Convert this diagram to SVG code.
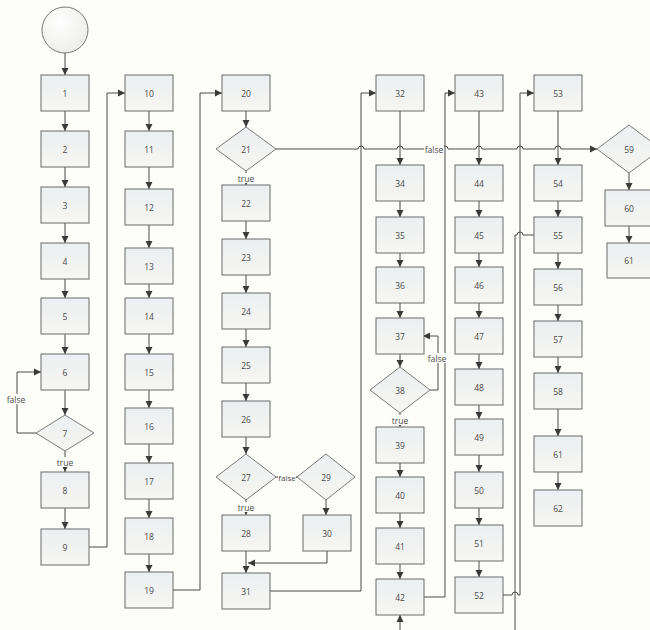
<svg xmlns="http://www.w3.org/2000/svg" width="650" height="630" viewBox="0 0 650 630">
<defs>
<linearGradient id="g" x1="0" y1="0" x2="0" y2="1">
<stop offset="0" stop-color="#eceff1"/>
<stop offset="1" stop-color="#f6f6f2"/>
</linearGradient>
<radialGradient id="gc" cx="0.4" cy="0.35" r="0.7">
<stop offset="0" stop-color="#ffffff"/>
<stop offset="1" stop-color="#ececea"/>
</radialGradient>
<marker id="a" markerWidth="8" markerHeight="8" refX="7" refY="4" orient="auto" markerUnits="userSpaceOnUse">
<path d="M0,0.5 L7,4 L0,7.5 Z" fill="#3a3a3a"/>
</marker>
<style>
.b{fill:url(#g);stroke:#6b6b6b;stroke-width:1}
.d{fill:url(#g);stroke:#7a7a7a;stroke-width:1}
.t{font-family:"Open Sans","DejaVu Sans",sans-serif;font-size:8.5px;fill:#4a4a4a;text-anchor:middle;dominant-baseline:central}
.l{font-family:"Open Sans","DejaVu Sans",sans-serif;font-size:8.5px;fill:#4a4a4a;text-anchor:middle;dominant-baseline:central}
.c{fill:none;stroke:#4a4a4a;stroke-width:1}
.ca{fill:none;stroke:#4a4a4a;stroke-width:1;marker-end:url(#a)}
.lb{fill:#fdfdfa}
</style>
</defs>
<rect width="650" height="630" fill="#fdfdfa"/>

<g id="connectors">
<path class="ca" d="M65,53 V75"/>
<path class="ca" d="M65,111 V131"/>
<path class="ca" d="M65,167 V187"/>
<path class="ca" d="M65,223 V243"/>
<path class="ca" d="M65,279 V298"/>
<path class="ca" d="M65,334 V354"/>
<path class="ca" d="M65,390 V415"/>
<path class="ca" d="M36,433 H17 V372 H41"/>
<path class="ca" d="M65,451 V472"/>
<path class="ca" d="M65,508 V529"/>
<path class="ca" d="M89,547 H107 V93 H125"/>

<path class="ca" d="M149,111 V131"/>
<path class="ca" d="M149,167 V189"/>
<path class="ca" d="M149,225 V248"/>
<path class="ca" d="M149,284 V298"/>
<path class="ca" d="M149,334 V354"/>
<path class="ca" d="M149,390 V408"/>
<path class="ca" d="M149,444 V463"/>
<path class="ca" d="M149,499 V518"/>
<path class="ca" d="M149,554 V572"/>
<path class="ca" d="M173,590 H200 V93 H222"/>

<path class="ca" d="M246,111 V127"/>
<path class="ca" d="M246,171 V185"/>
<path class="ca" d="M246,221 V239"/>
<path class="ca" d="M246,275 V293"/>
<path class="ca" d="M246,329 V347"/>
<path class="ca" d="M246,383 V401"/>
<path class="ca" d="M246,437 V454"/>
<path class="ca" d="M276,477 H297"/>
<path class="ca" d="M246,500 V515"/>
<path class="ca" d="M326,500 V515"/>
<path class="ca" d="M327,551 V563 H248"/>
<path class="ca" d="M246,551 V573"/>
<path class="ca" d="M270,591 H361 V93 H376"/>
<path class="ca" d="M276,149 H358 a3,3 0 0 1 6,0 H397 a3,3 0 0 1 6,0 H442 a3,3 0 0 1 6,0 H476 a3,3 0 0 1 6,0 H517 a3,3 0 0 1 6,0 H555 a3,3 0 0 1 6,0 H597"/>

<path class="ca" d="M400,111 V165"/>
<path class="ca" d="M400,201 V217"/>
<path class="ca" d="M400,253 V267"/>
<path class="ca" d="M400,303 V318"/>
<path class="ca" d="M400,354 V367"/>
<path class="ca" d="M430,390 H438 V336 H423"/>
<path class="ca" d="M400,413 V427"/>
<path class="ca" d="M400,463 V477"/>
<path class="ca" d="M400,513 V528"/>
<path class="ca" d="M400,564 V579"/>
<path class="ca" d="M400,630 V615"/>
<path class="ca" d="M423,597 H445 V93 H455"/>

<path class="ca" d="M479,111 V165"/>
<path class="ca" d="M479,201 V217"/>
<path class="ca" d="M479,253 V267"/>
<path class="ca" d="M479,303 V318"/>
<path class="ca" d="M479,354 V369"/>
<path class="ca" d="M479,405 V419"/>
<path class="ca" d="M479,455 V472"/>
<path class="ca" d="M479,508 V525"/>
<path class="ca" d="M479,561 V577"/>
<path class="ca" d="M503,595 H512 a3,3 0 0 1 6,0 H520 V93 H534"/>

<path class="ca" d="M558,111 V165"/>
<path class="ca" d="M558,201 V217"/>
<path class="ca" d="M558,253 V269"/>
<path class="ca" d="M558,305 V321"/>
<path class="ca" d="M558,357 V373"/>
<path class="ca" d="M558,409 V436"/>
<path class="ca" d="M558,472 V490"/>
<path class="c" d="M534,235 H523 a3,3 0 0 0 -6,0 H515 V630"/>

<path class="ca" d="M629,173 V190"/>
<path class="ca" d="M629,226 V243"/>

<rect class="lb" x="6" y="394" width="21" height="10"/>
<text class="l" x="16" y="399">false</text>
<rect class="lb" x="56" y="457" width="18" height="10"/>
<text class="l" x="65" y="462">true</text>
<rect class="lb" x="237" y="173" width="18" height="10"/>
<text class="l" x="246" y="178">true</text>
<rect class="lb" x="237" y="502" width="18" height="10"/>
<text class="l" x="246" y="507">true</text>
<rect class="lb" x="278" y="472" width="18" height="10"/>
<text class="l" x="287" y="477" style="font-size:8px">false</text>
<rect class="lb" x="391" y="415" width="18" height="10"/>
<text class="l" x="400" y="420">true</text>
<rect class="lb" x="427" y="353" width="21" height="10"/>
<text class="l" x="437" y="358">false</text>
<rect class="lb" x="424" y="144" width="20" height="10"/>
<text class="l" x="434" y="149">false</text>
</g>

<g id="start"><circle cx="65" cy="30" r="23" fill="url(#gc)" stroke="#777"/></g>

<g id="n1"><rect class="b" x="41" y="75" width="48" height="36"/><text class="t" x="65" y="93">1</text></g>
<g id="n2"><rect class="b" x="41" y="131" width="48" height="36"/><text class="t" x="65" y="149">2</text></g>
<g id="n3"><rect class="b" x="41" y="187" width="48" height="36"/><text class="t" x="65" y="205">3</text></g>
<g id="n4"><rect class="b" x="41" y="243" width="48" height="36"/><text class="t" x="65" y="261">4</text></g>
<g id="n5"><rect class="b" x="41" y="298" width="48" height="36"/><text class="t" x="65" y="316">5</text></g>
<g id="n6"><rect class="b" x="41" y="354" width="48" height="36"/><text class="t" x="65" y="372">6</text></g>
<g id="n7"><polygon class="d" points="65,415 94,433 65,451 36,433"/><text class="t" x="65" y="433">7</text></g>
<g id="n8"><rect class="b" x="41" y="472" width="48" height="36"/><text class="t" x="65" y="490">8</text></g>
<g id="n9"><rect class="b" x="41" y="529" width="48" height="36"/><text class="t" x="65" y="547">9</text></g>

<g id="n10"><rect class="b" x="125" y="75" width="48" height="36"/><text class="t" x="149" y="93">10</text></g>
<g id="n11"><rect class="b" x="125" y="131" width="48" height="36"/><text class="t" x="149" y="149">11</text></g>
<g id="n12"><rect class="b" x="125" y="189" width="48" height="36"/><text class="t" x="149" y="207">12</text></g>
<g id="n13"><rect class="b" x="125" y="248" width="48" height="36"/><text class="t" x="149" y="266">13</text></g>
<g id="n14"><rect class="b" x="125" y="298" width="48" height="36"/><text class="t" x="149" y="316">14</text></g>
<g id="n15"><rect class="b" x="125" y="354" width="48" height="36"/><text class="t" x="149" y="372">15</text></g>
<g id="n16"><rect class="b" x="125" y="408" width="48" height="36"/><text class="t" x="149" y="426">16</text></g>
<g id="n17"><rect class="b" x="125" y="463" width="48" height="36"/><text class="t" x="149" y="481">17</text></g>
<g id="n18"><rect class="b" x="125" y="518" width="48" height="36"/><text class="t" x="149" y="536">18</text></g>
<g id="n19"><rect class="b" x="125" y="572" width="48" height="36"/><text class="t" x="149" y="590">19</text></g>

<g id="n20"><rect class="b" x="222" y="75" width="48" height="36"/><text class="t" x="246" y="93">20</text></g>
<g id="n21"><polygon class="d" points="246,127 276,149 246,171 216,149"/><text class="t" x="246" y="149">21</text></g>
<g id="n22"><rect class="b" x="222" y="185" width="48" height="36"/><text class="t" x="246" y="203">22</text></g>
<g id="n23"><rect class="b" x="222" y="239" width="48" height="36"/><text class="t" x="246" y="257">23</text></g>
<g id="n24"><rect class="b" x="222" y="293" width="48" height="36"/><text class="t" x="246" y="311">24</text></g>
<g id="n25"><rect class="b" x="222" y="347" width="48" height="36"/><text class="t" x="246" y="365">25</text></g>
<g id="n26"><rect class="b" x="222" y="401" width="48" height="36"/><text class="t" x="246" y="419">26</text></g>
<g id="n27"><polygon class="d" points="246,454 276,477 246,500 216,477"/><text class="t" x="246" y="477">27</text></g>
<g id="n28"><rect class="b" x="222" y="515" width="48" height="36"/><text class="t" x="246" y="533">28</text></g>
<g id="n29"><polygon class="d" points="326,454 355,477 326,500 297,477"/><text class="t" x="326" y="477">29</text></g>
<g id="n30"><rect class="b" x="303" y="515" width="48" height="36"/><text class="t" x="327" y="533">30</text></g>
<g id="n31"><rect class="b" x="222" y="573" width="48" height="36"/><text class="t" x="246" y="591">31</text></g>

<g id="n32"><rect class="b" x="376" y="75" width="48" height="36"/><text class="t" x="400" y="93">32</text></g>
<g id="n34"><rect class="b" x="376" y="165" width="48" height="36"/><text class="t" x="400" y="183">34</text></g>
<g id="n35"><rect class="b" x="376" y="217" width="48" height="36"/><text class="t" x="400" y="235">35</text></g>
<g id="n36"><rect class="b" x="376" y="267" width="48" height="36"/><text class="t" x="400" y="285">36</text></g>
<g id="n37"><rect class="b" x="376" y="318" width="48" height="36"/><text class="t" x="400" y="336">37</text></g>
<g id="n38"><polygon class="d" points="400,367 430,390 400,413 370,390"/><text class="t" x="400" y="390">38</text></g>
<g id="n39"><rect class="b" x="376" y="427" width="48" height="36"/><text class="t" x="400" y="445">39</text></g>
<g id="n40"><rect class="b" x="376" y="477" width="48" height="36"/><text class="t" x="400" y="495">40</text></g>
<g id="n41"><rect class="b" x="376" y="528" width="48" height="36"/><text class="t" x="400" y="546">41</text></g>
<g id="n42"><rect class="b" x="376" y="579" width="48" height="36"/><text class="t" x="400" y="597">42</text></g>

<g id="n43"><rect class="b" x="455" y="75" width="48" height="36"/><text class="t" x="479" y="93">43</text></g>
<g id="n44"><rect class="b" x="455" y="165" width="48" height="36"/><text class="t" x="479" y="183">44</text></g>
<g id="n45"><rect class="b" x="455" y="217" width="48" height="36"/><text class="t" x="479" y="235">45</text></g>
<g id="n46"><rect class="b" x="455" y="267" width="48" height="36"/><text class="t" x="479" y="285">46</text></g>
<g id="n47"><rect class="b" x="455" y="318" width="48" height="36"/><text class="t" x="479" y="336">47</text></g>
<g id="n48"><rect class="b" x="455" y="369" width="48" height="36"/><text class="t" x="479" y="387">48</text></g>
<g id="n49"><rect class="b" x="455" y="419" width="48" height="36"/><text class="t" x="479" y="437">49</text></g>
<g id="n50"><rect class="b" x="455" y="472" width="48" height="36"/><text class="t" x="479" y="490">50</text></g>
<g id="n51"><rect class="b" x="455" y="525" width="48" height="36"/><text class="t" x="479" y="543">51</text></g>
<g id="n52"><rect class="b" x="455" y="577" width="48" height="36"/><text class="t" x="479" y="595">52</text></g>

<g id="n53"><rect class="b" x="534" y="75" width="48" height="36"/><text class="t" x="558" y="93">53</text></g>
<g id="n54"><rect class="b" x="534" y="165" width="48" height="36"/><text class="t" x="558" y="183">54</text></g>
<g id="n55"><rect class="b" x="534" y="217" width="48" height="36"/><text class="t" x="558" y="235">55</text></g>
<g id="n56"><rect class="b" x="534" y="269" width="48" height="36"/><text class="t" x="558" y="287">56</text></g>
<g id="n57"><rect class="b" x="534" y="321" width="48" height="36"/><text class="t" x="558" y="339">57</text></g>
<g id="n58"><rect class="b" x="534" y="373" width="48" height="36"/><text class="t" x="558" y="391">58</text></g>
<g id="n61a"><rect class="b" x="534" y="436" width="48" height="36"/><text class="t" x="558" y="454">61</text></g>
<g id="n62"><rect class="b" x="534" y="490" width="48" height="36"/><text class="t" x="558" y="508">62</text></g>

<g id="n59"><polygon class="d" points="629,125 661,149 629,173 597,149"/><text class="t" x="629" y="149">59</text></g>
<g id="n60"><rect class="b" x="605" y="190" width="48" height="36"/><text class="t" x="629" y="208">60</text></g>
<g id="n61b"><rect class="b" x="607" y="243" width="48" height="35"/><text class="t" x="629" y="260">61</text></g>
</svg>
